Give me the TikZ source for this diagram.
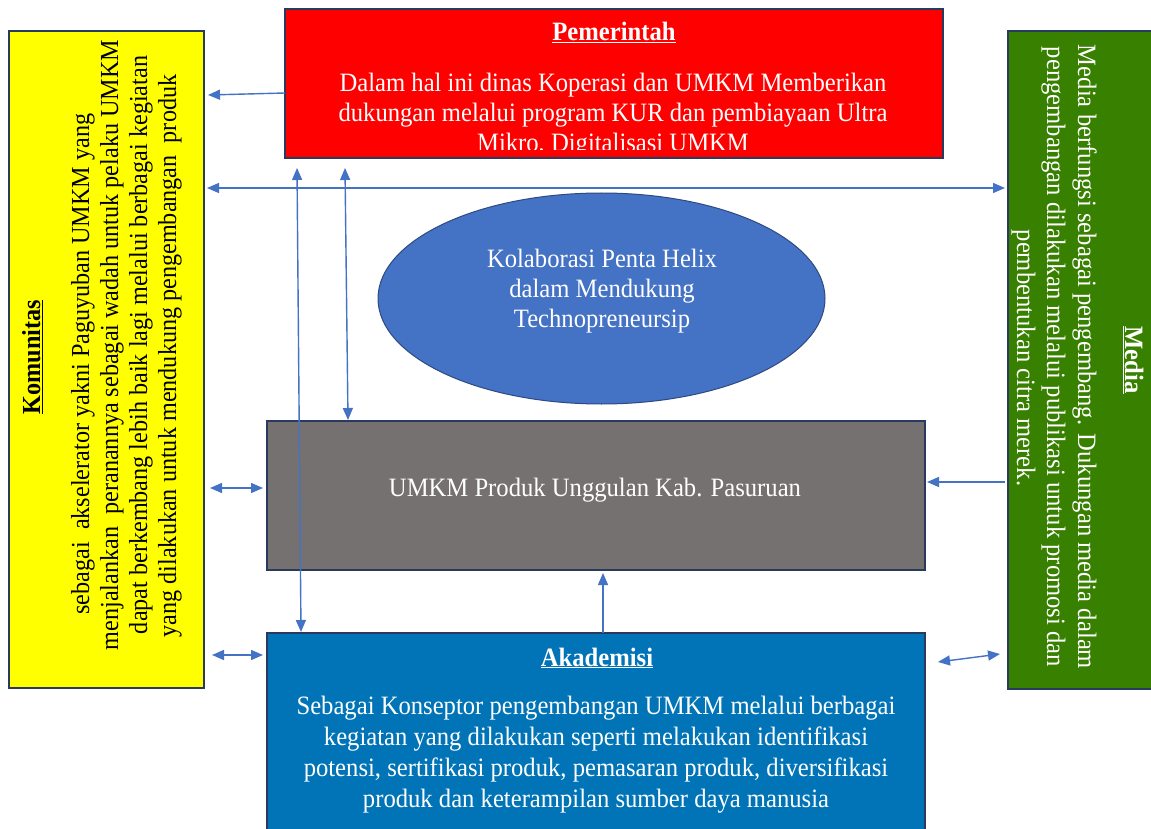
\documentclass[tikz,border=0pt]{standalone}
\usepackage{fontspec}
\setmainfont{Liberation Serif}[FakeStretch=0.93]
\usetikzlibrary{arrows.meta,shapes.geometric,calc}
\definecolor{bordc}{HTML}{2A3A5E}
\definecolor{yelc}{HTML}{FFFF00}
\definecolor{redc}{HTML}{FF0000}
\definecolor{grnc}{HTML}{388000}
\definecolor{akac}{HTML}{0074B7}
\definecolor{gryc}{HTML}{767171}
\definecolor{ellc}{HTML}{4472C4}
\definecolor{ellb}{HTML}{2F4A80}
\definecolor{arrc}{HTML}{4472C4}
\tikzset{
  box/.style={draw=bordc, line width=1.3pt, inner sep=0pt, outer sep=0pt},
  txt/.style={inner sep=0pt, anchor=base, font=\fontsize{26.5pt}{30pt}\selectfont},
  wtxt/.style={txt, text=white},
  btxt/.style={txt, text=black, font=\fontsize{26pt}{30pt}\selectfont},
  arr/.style={draw=arrc, line width=1.4pt, -{Triangle[length=12pt,width=10pt]}},
  darr/.style={draw=arrc, line width=1.4pt, {Triangle[length=12pt,width=10pt]}-{Triangle[length=12pt,width=10pt]}},
}
\begin{document}
\begin{tikzpicture}[x=1pt,y=-1pt]
\useasboundingbox (0,0) rectangle (1151,829);
\fill[white] (0,0) rectangle (1151,829);

% boxes
\node[box, fill=yelc, minimum width=195pt, minimum height=657pt] (yel) at (106.5,359.5) {};
\node[box, fill=redc, minimum width=658pt, minimum height=149pt] (red) at (614,83.5) {};
\node[box, fill=grnc, minimum width=144pt, minimum height=658pt] (grn) at (1080,360) {};
\node[box, fill=gryc, minimum width=658pt, minimum height=149pt] (gry) at (596,495.5) {};
\node[box, fill=akac, minimum width=658pt, minimum height=212pt] (aka) at (596,739) {};
\node[ellipse, draw=ellb, line width=1pt, fill=ellc, minimum width=447pt, minimum height=211pt, inner sep=0pt] (ell) at (601.5,298.5) {};

% Pemerintah
\node[wtxt] (redT) at (614,41) {\underline{\textbf{Pemerintah}}};
\node[wtxt] (red1) at (613,92) {Dalam hal ini dinas Koperasi dan UMKM Memberikan};
\node[wtxt] (red2) at (613,122) {dukungan melalui program KUR dan pembiayaan Ultra};
\begin{scope}
\clip (red.north west) rectangle ($(red.south east)+(0,-8)$);
\node[wtxt] (red3) at (613,152) {Mikro, Digitalisasi UMKM};
\end{scope}

% Komunitas
\node[btxt, rotate=90] (yelT) at (40,357) {\underline{\textbf{Komunitas}}};
\node[btxt, rotate=90] (yel1) at (89,364) {sebagai\ \ akselerator yakni Paguyuban UMKM yang};
\node[btxt, rotate=90] (yel2) at (118,345) {menjalankan\ \ peranannya sebagai wadah untuk pelaku UMKM};
\node[btxt, rotate=90] (yel3) at (147,345) {dapat berkembang lebih baik lagi melalui berbagai kegiatan};
\node[btxt, rotate=90] (yel4) at (176,356) {yang dilakukan untuk mendukung pengembangan\ \ produk};

% Media
\node[wtxt, rotate=-90] (grnT) at (1125,360) {\underline{\textbf{Media}}};
\node[wtxt, rotate=-90] (grn1) at (1078,357) {Media berfungsi sebagai pengembang. Dukungan media dalam};
\node[wtxt, rotate=-90] (grn2) at (1047,357) {pengembangan dilakukan melalui publikasi untuk promosi dan};
\node[wtxt, rotate=-90] (grn3) at (1017,358) {pembentukan citra merek.};

% ellipse text
\node[wtxt] (ell1) at (602,267) {Kolaborasi Penta Helix};
\node[wtxt] (ell2) at (602,297) {dalam Mendukung};
\node[wtxt] (ell3) at (602,327) {Technopreneursip};

% UMKM
\node[wtxt] (gry1) at (595,496) {UMKM Produk Unggulan Kab. Pasuruan};

% Akademisi
\node[wtxt] (akaT) at (597,666) {\underline{\textbf{Akademisi}}};
\node[wtxt] (aka1) at (596,714) {Sebagai Konseptor pengembangan UMKM melalui berbagai};
\node[wtxt] (aka2) at (596,745) {kegiatan yang dilakukan seperti melakukan identifikasi};
\node[wtxt] (aka3) at (596,776) {potensi, sertifikasi produk, pemasaran produk, diversifikasi};
\node[wtxt] (aka4) at (596,807) {produk dan keterampilan sumber daya manusia};

% connectors
\coordinate (lvH) at (0,188);
\draw[arr] ($(red.west)+(0,9.5)$) -- ($(yel.east|-red.west)+(4,11.5)$);
\draw[darr] ($(yel.east|-lvH)+(3,0)$) -- ($(grn.west|-lvH)+(-3,0)$);
\draw[darr] ($(red.south west)+(12,10)$) -- ($(aka.north west)+(34,-1)$);
\draw[darr] ($(red.south west)+(60,10)$) -- ($(gry.north west)+(81,-1)$);
\draw[darr] ($(yel.east|-gry.west)+(6,-7.5)$) -- ($(gry.west)+(-4,-7.5)$);
\draw[darr] ($(yel.east|-aka.north west)+(8,22)$) -- ($(aka.north west)+(-4,22)$);
\draw[arr] ($(aka.north)+(7,0)$) -- ($(gry.south)+(7,3)$);
\draw[arr] ($(grn.west|-gry.east)+(-3,-13.5)$) -- ($(gry.east)+(2,-13.5)$);
\draw[darr] ($(aka.north east)+(13,29)$) -- ($(grn.west|-aka.north east)+(-8,21)$);
\end{tikzpicture}
\end{document}
